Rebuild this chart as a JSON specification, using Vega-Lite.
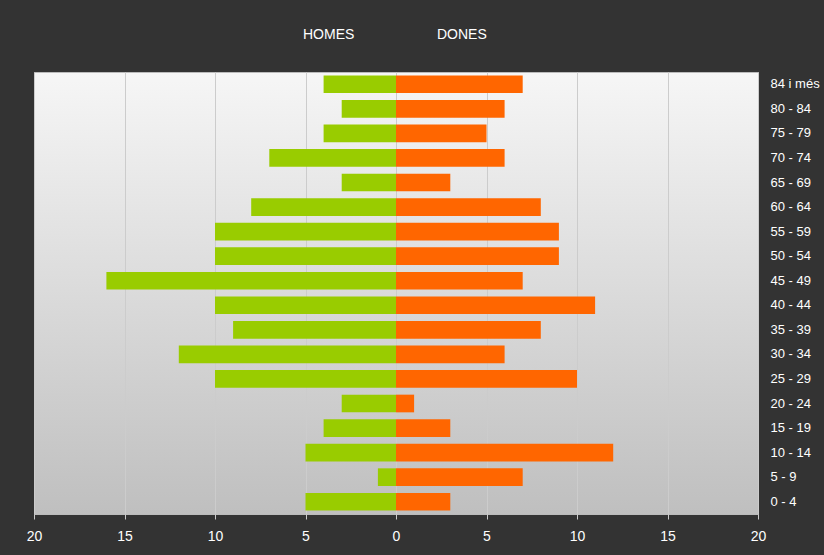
{
  "$schema": "https://vega.github.io/schema/vega-lite/v6.json",
  "width": 724,
  "height": 442,
  "autosize": "none",
  "padding": {"left": 34, "top": 72, "right": 66, "bottom": 41},
  "background": "#333333",
  "config": {
    "font": "Liberation Sans",
    "view": {
      "stroke": "#bbbbbb",
      "strokeWidth": 1,
      "fill": {
        "gradient": "linear",
        "x1": 0, "y1": 0, "x2": 0, "y2": 1,
        "stops": [
          {"offset": 0, "color": "#f6f6f6"},
          {"offset": 1, "color": "#bfbfbf"}
        ]
      }
    }
  },
  "data": {
    "values": [
      {"grup": "84 i més", "sexe": "HOMES", "valor": 4},
      {"grup": "80 - 84", "sexe": "HOMES", "valor": 3},
      {"grup": "75 - 79", "sexe": "HOMES", "valor": 4},
      {"grup": "70 - 74", "sexe": "HOMES", "valor": 7},
      {"grup": "65 - 69", "sexe": "HOMES", "valor": 3},
      {"grup": "60 - 64", "sexe": "HOMES", "valor": 8},
      {"grup": "55 - 59", "sexe": "HOMES", "valor": 10},
      {"grup": "50 - 54", "sexe": "HOMES", "valor": 10},
      {"grup": "45 - 49", "sexe": "HOMES", "valor": 16},
      {"grup": "40 - 44", "sexe": "HOMES", "valor": 10},
      {"grup": "35 - 39", "sexe": "HOMES", "valor": 9},
      {"grup": "30 - 34", "sexe": "HOMES", "valor": 12},
      {"grup": "25 - 29", "sexe": "HOMES", "valor": 10},
      {"grup": "20 - 24", "sexe": "HOMES", "valor": 3},
      {"grup": "15 - 19", "sexe": "HOMES", "valor": 4},
      {"grup": "10 - 14", "sexe": "HOMES", "valor": 5},
      {"grup": "5 - 9", "sexe": "HOMES", "valor": 1},
      {"grup": "0 - 4", "sexe": "HOMES", "valor": 5},
      {"grup": "84 i més", "sexe": "DONES", "valor": 7},
      {"grup": "80 - 84", "sexe": "DONES", "valor": 6},
      {"grup": "75 - 79", "sexe": "DONES", "valor": 5},
      {"grup": "70 - 74", "sexe": "DONES", "valor": 6},
      {"grup": "65 - 69", "sexe": "DONES", "valor": 3},
      {"grup": "60 - 64", "sexe": "DONES", "valor": 8},
      {"grup": "55 - 59", "sexe": "DONES", "valor": 9},
      {"grup": "50 - 54", "sexe": "DONES", "valor": 9},
      {"grup": "45 - 49", "sexe": "DONES", "valor": 7},
      {"grup": "40 - 44", "sexe": "DONES", "valor": 11},
      {"grup": "35 - 39", "sexe": "DONES", "valor": 8},
      {"grup": "30 - 34", "sexe": "DONES", "valor": 6},
      {"grup": "25 - 29", "sexe": "DONES", "valor": 10},
      {"grup": "20 - 24", "sexe": "DONES", "valor": 1},
      {"grup": "15 - 19", "sexe": "DONES", "valor": 3},
      {"grup": "10 - 14", "sexe": "DONES", "valor": 12},
      {"grup": "5 - 9", "sexe": "DONES", "valor": 7},
      {"grup": "0 - 4", "sexe": "DONES", "valor": 3}
    ]
  },
  "transform": [
    {"calculate": "datum.sexe === 'HOMES' ? -datum.valor : datum.valor", "as": "x"}
  ],
  "mark": {"type": "bar"},
  "encoding": {
    "y": {
      "field": "grup",
      "type": "nominal",
      "sort": ["84 i més", "80 - 84", "75 - 79", "70 - 74", "65 - 69", "60 - 64", "55 - 59", "50 - 54", "45 - 49", "40 - 44", "35 - 39", "30 - 34", "25 - 29", "20 - 24", "15 - 19", "10 - 14", "5 - 9", "0 - 4"],
      "scale": {"paddingInner": 0.28, "paddingOuter": 0.14},
      "axis": {
        "orient": "right",
        "title": null,
        "domain": false,
        "ticks": false,
        "labelColor": "#ffffff",
        "labelFontSize": 13,
        "labelPadding": 12,
        "labelLimit": 60
      }
    },
    "x": {
      "field": "x",
      "type": "quantitative",
      "scale": {"domain": [-20, 20]},
      "axis": {
        "title": null,
        "values": [-20, -15, -10, -5, 0, 5, 10, 15, 20],
        "labelExpr": "abs(datum.value)",
        "labelFlush": false,
        "labelColor": "#ffffff",
        "labelFontSize": 14,
        "labelPadding": 10,
        "domain": false,
        "tickColor": "#cccccc",
        "tickSize": 5,
        "grid": true,
        "gridColor": "#cccccc",
        "gridWidth": 1
      }
    },
    "color": {
      "field": "sexe",
      "type": "nominal",
      "scale": {"domain": ["HOMES", "DONES"], "range": ["#99cc00", "#ff6600"]},
      "legend": {
        "title": null,
        "orient": "none",
        "direction": "horizontal",
        "legendX": 255,
        "legendY": -44,
        "symbolSize": 0,
        "symbolStrokeWidth": 0,
        "symbolOpacity": 0,
        "labelOffset": 0,
        "labelColor": "#ffffff",
        "labelFontSize": 14,
        "columnPadding": 68
      }
    }
  }
}
